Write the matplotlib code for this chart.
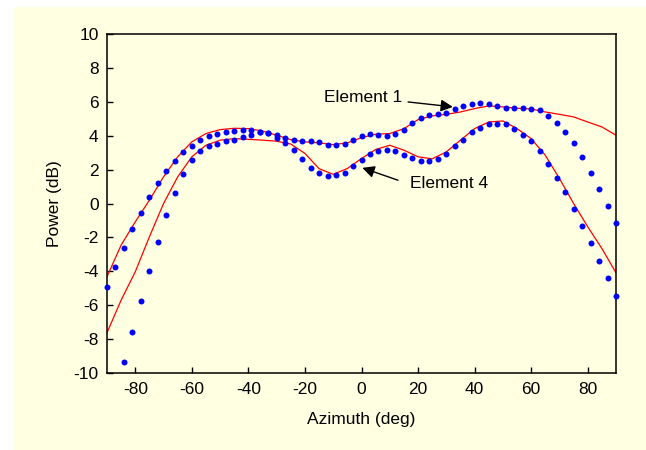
import numpy as np
import matplotlib.pyplot as plt
from matplotlib.patches import Rectangle

plt.rcParams['font.family'] = ['Liberation Sans', 'DejaVu Sans']
plt.rcParams['axes.unicode_minus'] = False

# measured points, every 3 deg
az_meas = list(range(-90, 91, 3))
elem1_meas = [-4.94, -3.73, -2.6, -1.49, -0.55, 0.37, 1.2, 1.9, 2.49, 3.02,
              3.41, 3.73, 3.96, 4.12, 4.2, 4.25, 4.31, 4.31, 4.22, 4.15,
              4.06, 3.88, 3.72, 3.66, 3.66, 3.6, 3.47, 3.44, 3.49, 3.73,
              3.96, 4.08, 4.02, 3.96, 4.08, 4.35, 4.75, 5.06, 5.24, 5.29,
              5.35, 5.55, 5.73, 5.88, 5.94, 5.88, 5.76, 5.65, 5.61, 5.61,
              5.59, 5.49, 5.18, 4.76, 4.24, 3.55, 2.75, 1.8, 0.84, -0.16,
              -1.14]
elem4_meas = [np.nan, np.nan, -9.35, -7.59, -5.77, -3.96, -2.26, -0.65, 0.63, 1.73,
              2.55, 3.08, 3.41, 3.53, 3.67, 3.73, 3.9, 4.06, 4.2, 4.15,
              3.88, 3.55, 3.14, 2.6, 2.08, 1.8, 1.6, 1.66, 1.82, 2.22,
              2.59, 2.9, 3.1, 3.14, 3.08, 2.84, 2.67, 2.51, 2.51, 2.61,
              2.94, 3.37, 3.76, 4.22, 4.47, 4.67, 4.71, 4.67, 4.41, 4.06,
              3.67, 3.08, 2.35, 1.53, 0.65, -0.33, -1.33, -2.31, -3.39, -4.41,
              -5.43]

# simulated curves, every 5 deg
az_sim = list(range(-90, 91, 5))
elem1_sim = [-4.31, -2.45, -1.08, 0.2, 1.57, 2.75, 3.63, 4.12, 4.35, 4.43,
             4.41, 4.27, 4.02, 3.76, 3.63, 3.57, 3.47, 3.57, 3.88, 4.08,
             4.12, 4.41, 4.94, 5.16, 5.25, 5.39, 5.59, 5.75, 5.69, 5.61,
             5.57, 5.39, 5.25, 5.1, 4.8, 4.51, 4.02]
elem4_sim = [-7.61, -5.69, -4.02, -1.96, 0.0, 1.57, 2.75, 3.43, 3.73, 3.82,
             3.78, 3.73, 3.67, 3.5, 2.95, 2.05, 1.72, 2.06, 2.65, 3.18,
             3.43, 3.14, 2.75, 2.63, 3.04, 3.73, 4.41, 4.8, 4.86, 4.41,
             3.82, 2.84, 1.47, 0.0, -1.37, -2.65, -4.08]

bg = '#FFFFE1'

fig = plt.figure(figsize=(6.46, 4.5), dpi=100)
fig.patches.append(Rectangle((13 / 646, 0), 1, 1 - 7 / 450, transform=fig.transFigure,
                             facecolor=bg, edgecolor='none', zorder=-10))
ax = fig.add_axes([107 / 646, 1 - 373.3 / 450, 509 / 646, 339.6 / 450])
ax.set_facecolor(bg)

ax.plot(az_sim, elem1_sim, color='red', lw=0.9, zorder=2)
ax.plot(az_sim, elem4_sim, color='red', lw=0.9, zorder=2)
ax.plot(az_meas, elem1_meas, 'o', color='#0000FF', ms=4.3, mec='none', zorder=3, clip_on=False)
ax.plot(az_meas, elem4_meas, 'o', color='#0000FF', ms=4.3, mec='none', zorder=3, clip_on=False)

ax.set_xlim(-90, 90)
ax.set_ylim(-10, 10)
ax.set_xticks(range(-80, 81, 20))
ax.set_yticks(range(-10, 11, 2))
ax.tick_params(direction='in', length=4, width=1, labelsize=12.5, pad=6)
for s in ax.spines.values():
    s.set_linewidth(1.1)

ax.set_xlabel('Azimuth (deg)', fontsize=12.5, labelpad=11)
ax.set_ylabel('Power (dB)', fontsize=12.5, labelpad=8)

ax.annotate('Element 1', xy=(32.3, 5.69), xytext=(14.5, 6.27), fontsize=12.5,
            ha='right', va='center',
            arrowprops=dict(arrowstyle='-|>', color='black', lw=1,
                            mutation_scale=18, shrinkA=2, shrinkB=0))
ax.text(17, 1.18, 'Element 4', fontsize=12.5, ha='left', va='center')
ax.annotate('', xy=(0.3, 2.1), xytext=(12.9, 1.37),
            arrowprops=dict(arrowstyle='-|>', color='black', lw=1,
                            mutation_scale=18, shrinkA=0, shrinkB=0))

fig.savefig('out.png', dpi=100, facecolor='white')
